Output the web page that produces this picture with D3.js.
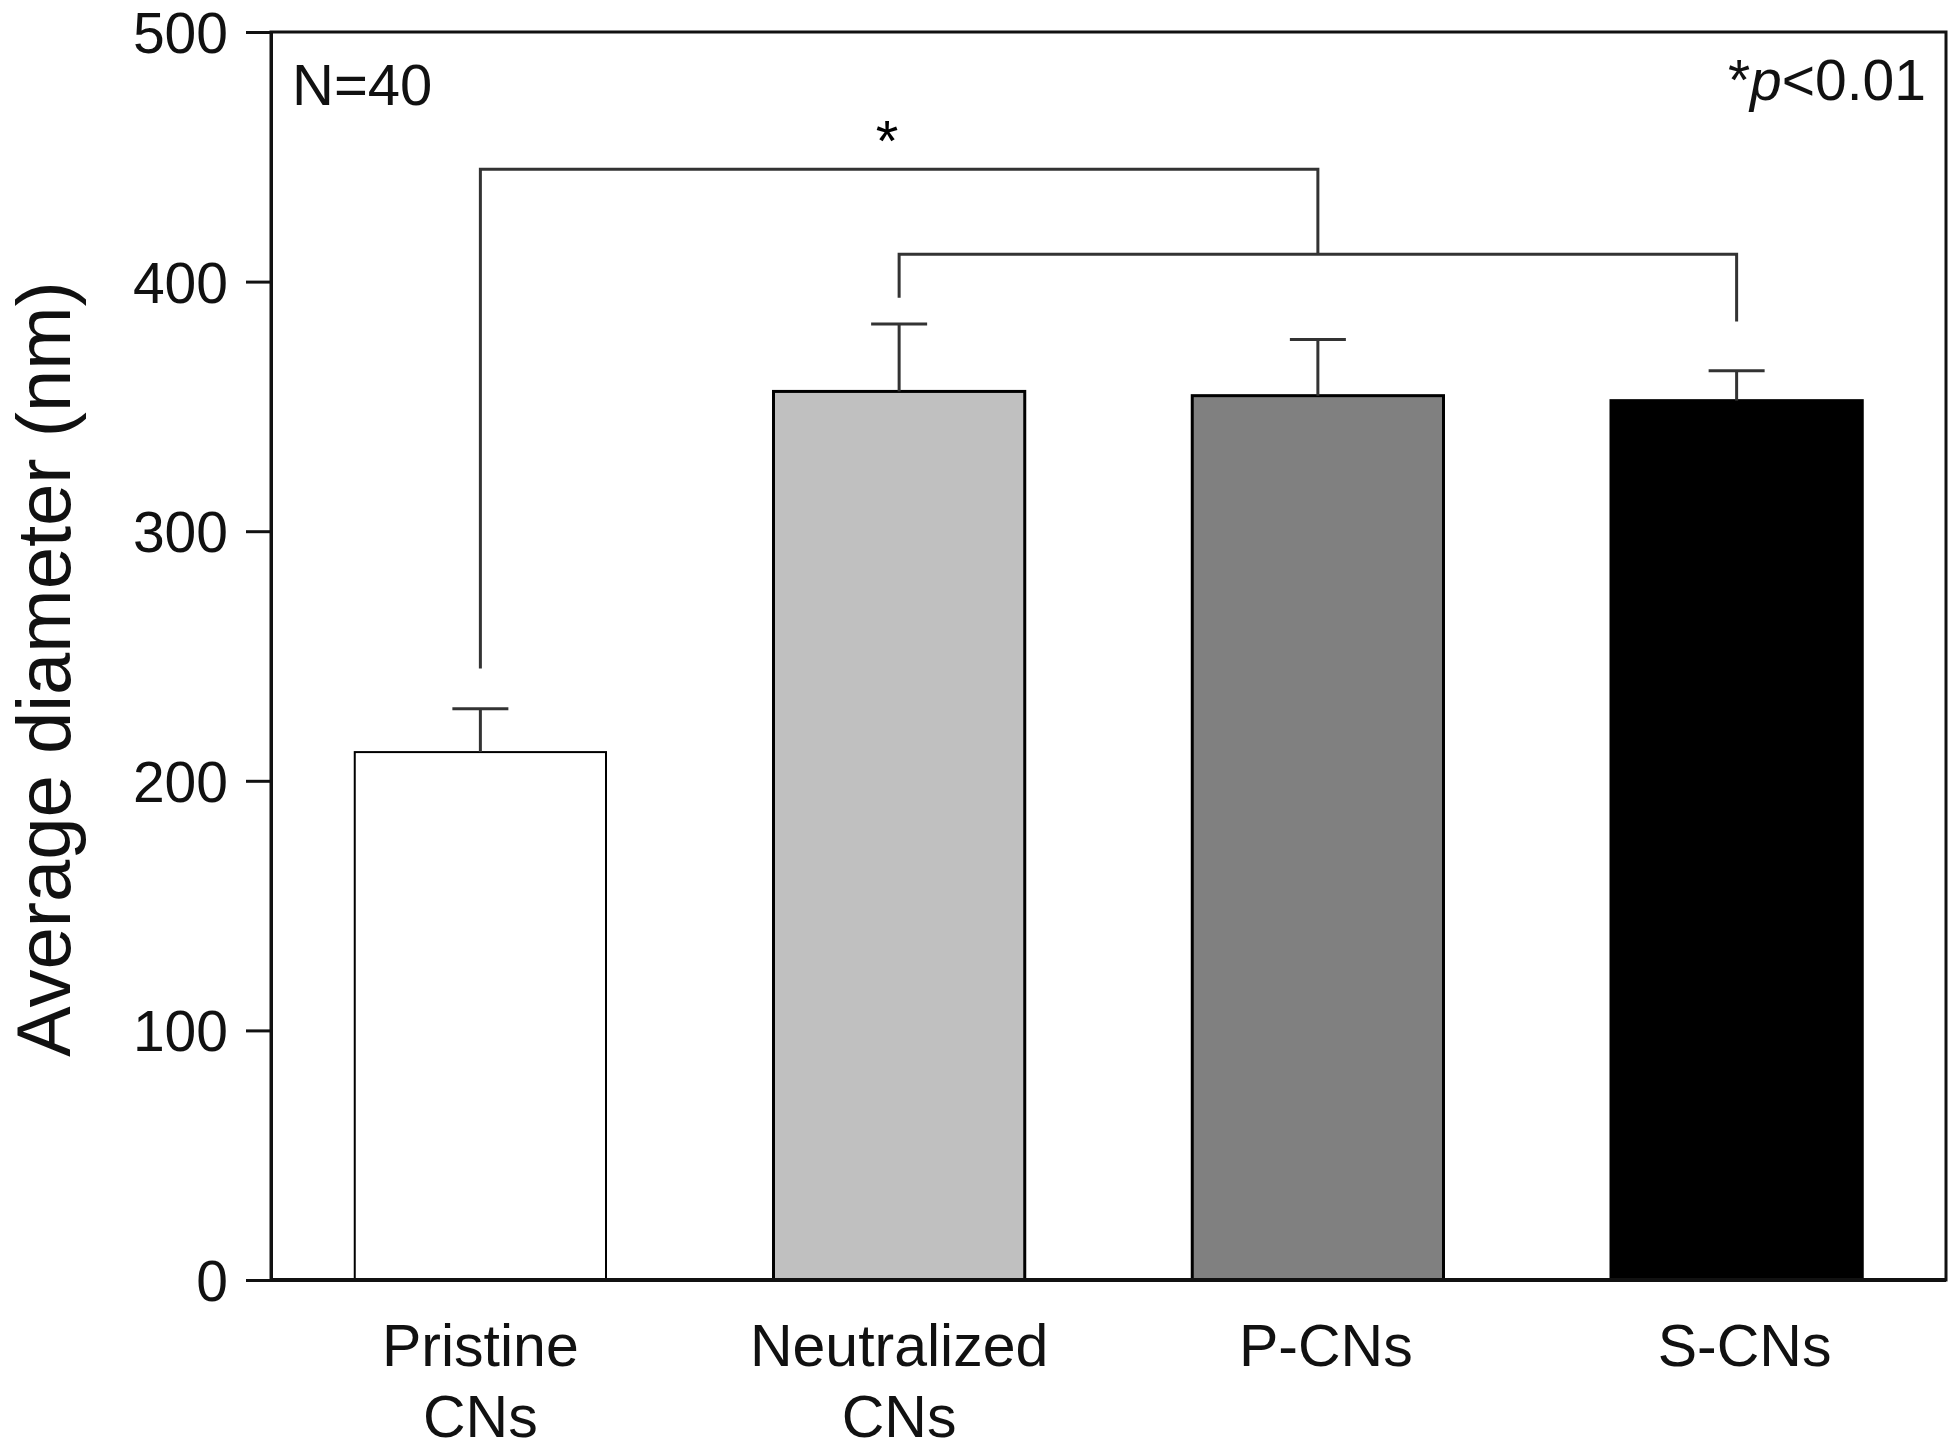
<!DOCTYPE html>
<html>
<head>
<meta charset="utf-8">
<script src="https://cdn.jsdelivr.net/npm/d3@7"></script>
<style>
  html, body { margin: 0; padding: 0; background: #fff; }
  svg { display: block; font-family: "Liberation Sans", Arial, sans-serif; }
</style>
</head>
<body>
<svg id="chart" width="1957" height="1454"></svg>
<script>
// ---- data ----
const categories = ["Pristine CNs", "Neutralized CNs", "P-CNs", "S-CNs"];
const labelLines = [["Pristine", "CNs"], ["Neutralized", "CNs"], ["P-CNs"], ["S-CNs"]];
const means = [211.5, 356, 354.3, 352.3];
const errors = [17.4, 27, 22.5, 12];
const fills = ["#ffffff", "#c0c0c0", "#808080", "#000000"];
const yTicks = [0, 100, 200, 300, 400, 500];
// significance brackets: categories joined, leg-bottom values and bar level (nm)
const bracketUpper = { from: 0, to: 2, levelValue: 445, leftBottom: 245, rightBottom: 411 };
const bracketLower = { from: 1, to: 3, levelValue: 411, leftBottom: 393.5, rightBottom: 384 };

// ---- layout ----
const svg = d3.select("#chart");
const margin = { left: 271, right: 1946, top: 32, bottom: 1280 };

const x = d3.scaleBand()
  .domain(categories)
  .range([margin.left, margin.right])
  .paddingInner(0.4)
  .paddingOuter(0.2);

const y = d3.scaleLinear().domain([0, 500]).range([margin.bottom, margin.top]);

// bars
svg.append("g").selectAll("rect")
  .data(categories)
  .join("rect")
  .attr("x", d => x(d))
  .attr("width", x.bandwidth())
  .attr("y", (d, i) => y(means[i]))
  .attr("height", (d, i) => y(0) - y(means[i]))
  .attr("fill", (d, i) => fills[i])
  .attr("stroke", "#000")
  .attr("stroke-width", (d, i) => i === 0 ? 2 : 3);

// error bars (upper only)
const eb = svg.append("g").attr("stroke", "#333").attr("stroke-width", 3);
categories.forEach((c, i) => {
  const cx = x(c) + x.bandwidth() / 2;
  eb.append("line").attr("x1", cx).attr("x2", cx)
    .attr("y1", y(means[i])).attr("y2", y(means[i] + errors[i]));
  eb.append("line").attr("x1", cx - 28).attr("x2", cx + 28)
    .attr("y1", y(means[i] + errors[i])).attr("y2", y(means[i] + errors[i]));
});

// significance brackets
function bracket(b) {
  const x1 = x(categories[b.from]) + x.bandwidth() / 2;
  const x2 = x(categories[b.to]) + x.bandwidth() / 2;
  const path = d3.path();
  path.moveTo(x1, y(b.leftBottom));
  path.lineTo(x1, y(b.levelValue));
  path.lineTo(x2, y(b.levelValue));
  path.lineTo(x2, y(b.rightBottom));
  svg.append("path").attr("d", path.toString())
    .attr("fill", "none").attr("stroke", "#333").attr("stroke-width", 3);
}
bracket(bracketUpper);
bracket(bracketLower);

// star above upper bracket
svg.append("text")
  .attr("x", (x(categories[0]) + x(categories[2]) + x.bandwidth()) / 2 - 12)
  .attr("y", y(bracketUpper.levelValue) - 8)
  .attr("text-anchor", "middle")
  .attr("font-size", 58)
  .text("*");

// frame
svg.append("rect")
  .attr("x", margin.left).attr("y", margin.top)
  .attr("width", margin.right - margin.left)
  .attr("height", margin.bottom - margin.top)
  .attr("fill", "none").attr("stroke", "#111").attr("stroke-width", 3);

// y axis
const yAxis = d3.axisLeft(y).tickValues(yTicks).tickSize(25).tickPadding(18).tickFormat(d3.format("d"));
const gy = svg.append("g").attr("transform", `translate(${margin.left},0)`).call(yAxis);
gy.select(".domain").attr("stroke", "#111").attr("stroke-width", 3);
gy.selectAll(".tick line").attr("stroke", "#111").attr("stroke-width", 3);
gy.selectAll(".tick text").attr("font-size", 57).attr("fill", "#111").attr("dy", "0.36em")
  .attr("font-family", "'Liberation Sans', Arial, sans-serif");

// x axis baseline (thicker)
svg.append("line")
  .attr("x1", margin.left).attr("x2", margin.right)
  .attr("y1", y(0)).attr("y2", y(0))
  .attr("stroke", "#111").attr("stroke-width", 4);

// x labels
categories.forEach((c, i) => {
  const cx = x(c) + x.bandwidth() / 2 + (i >= 2 ? 8 : 0);
  const t = svg.append("text")
    .attr("x", cx)
    .attr("y", 1366)
    .attr("text-anchor", "middle")
    .attr("font-size", 59)
    .attr("fill", "#111");
  labelLines[i].forEach((line, j) => {
    t.append("tspan").attr("x", cx).attr("dy", j === 0 ? 0 : 71).text(line);
  });
});

// y axis title
svg.append("text")
  .attr("transform", `translate(70, ${(margin.top + margin.bottom) / 2 + 13}) rotate(-90)`)
  .attr("text-anchor", "middle")
  .attr("font-size", 76)
  .attr("fill", "#111")
  .text("Average diameter (nm)");

// annotations
svg.append("text").attr("x", 292).attr("y", 105).attr("font-size", 58).attr("fill", "#111").text("N=40");
const pt = svg.append("text").attr("x", 1926).attr("y", 100).attr("font-size", 57)
  .attr("text-anchor", "end").attr("fill", "#111");
pt.append("tspan").text("*");
pt.append("tspan").attr("font-style", "italic").text("p");
pt.append("tspan").text("<0.01");
</script>
</body>
</html>
